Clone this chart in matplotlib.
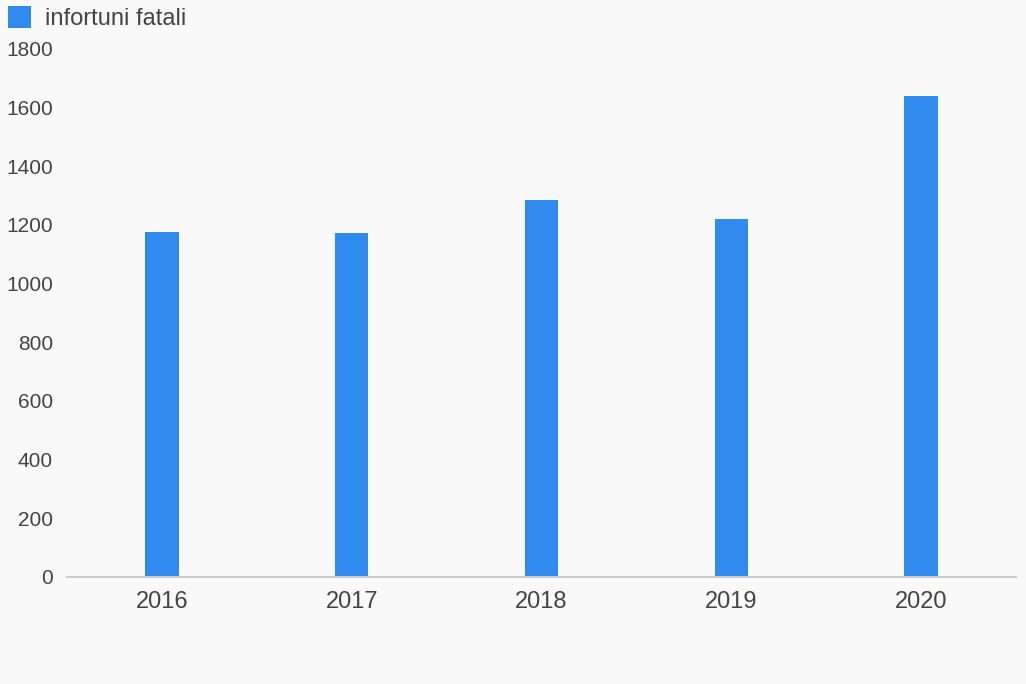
import matplotlib
matplotlib.use("Agg")
import matplotlib.pyplot as plt
from matplotlib.patches import Rectangle

years = ["2016", "2017", "2018", "2019", "2020"]
values = [1177, 1173, 1285, 1219, 1640]
series_name = "infortuni fatali"
yticks = [0, 200, 400, 600, 800, 1000, 1200, 1400, 1600, 1800]

bg = "#f9f9f9"
bar_color = "#318bef"
text_color = "#444444"

plt.rcParams['font.family'] = ['Liberation Sans', 'DejaVu Sans']

fig = plt.figure(figsize=(10.26, 6.84), dpi=100, facecolor=bg)
ax = fig.add_axes([67/1026, 1-577/684, (1016-67)/1026, (577-49)/684], facecolor=bg)

x = list(range(len(years)))
ax.bar(x, values, width=0.175, color=bar_color, zorder=2)

ax.set_xlim(-0.5, len(years) - 0.5)
ax.set_ylim(0, 1800)
ax.set_yticks(yticks)
ax.set_yticklabels([str(t) for t in yticks], fontsize=15, color=text_color)
ax.set_xticks(x)
ax.set_xticklabels(years, fontsize=17, color=text_color)
ax.tick_params(axis='y', length=0, pad=10)
ax.tick_params(axis='x', length=0, pad=10)

for s in ['top', 'right', 'left']:
    ax.spines[s].set_visible(False)
ax.spines['bottom'].set_color('#cccccc')
ax.spines['bottom'].set_linewidth(1.5)

# legend
fig.patches.append(Rectangle((8/1026, 1-28/684), 23/1026, 22/684,
                             transform=fig.transFigure, facecolor=bar_color,
                             edgecolor='none'))
fig.text(45/1026, 1-19/684, series_name, fontsize=17, color=text_color,
         va='center', ha='left')

fig.savefig("out.png", dpi=100, facecolor=bg)
